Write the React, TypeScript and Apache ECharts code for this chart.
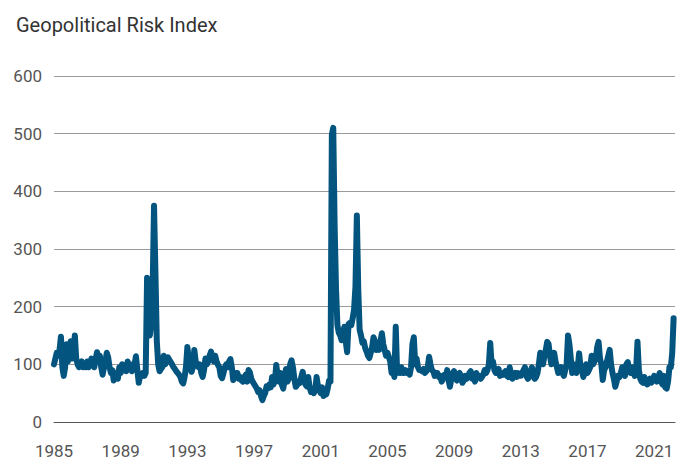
import React, { useEffect, useRef } from "react";
import * as echarts from "echarts";

// Monthly Geopolitical Risk Index values, Jan..Dec of each year
const gpr1985 = [100, 110, 120, 115, 125, 148, 95, 80, 95, 135, 105, 120];
const gpr1986 = [140, 110, 120, 150, 110, 100, 95, 100, 105, 95, 100, 95];
const gpr1987 = [105, 95, 100, 110, 105, 95, 110, 121, 105, 115, 95, 82];
const gpr1988 = [95, 105, 120, 112, 95, 85, 90, 72, 78, 85, 75, 95];
const gpr1989 = [85, 100, 90, 95, 88, 105, 95, 100, 88, 92, 100, 114];
const gpr1990 = [90, 68, 80, 82, 85, 80, 85, 250, 245, 150, 170, 230];
const gpr1991 = [375, 260, 140, 100, 88, 92, 95, 115, 100, 105, 112, 108];
const gpr1992 = [104, 100, 95, 92, 88, 85, 82, 78, 70, 67, 78, 95];
const gpr1993 = [130, 110, 100, 87, 95, 125, 105, 100, 95, 100, 85, 78];
const gpr1994 = [90, 110, 100, 105, 115, 122, 110, 105, 115, 105, 99, 95];
const gpr1995 = [80, 76, 85, 95, 100, 95, 105, 109, 95, 73, 80, 85];
const gpr1996 = [85, 75, 78, 72, 70, 78, 82, 70, 90, 86, 75, 70];
const gpr1997 = [66, 62, 58, 52, 55, 45, 38, 45, 50, 62, 58, 65];
const gpr1998 = [60, 78, 65, 72, 99, 80, 70, 85, 65, 58, 72, 92];
const gpr1999 = [70, 75, 100, 107, 95, 75, 61, 64, 70, 68, 78, 87];
const gpr2000 = [75, 65, 62, 78, 60, 52, 58, 50, 55, 78, 62, 55];
const gpr2001 = [50, 60, 45, 55, 48, 58, 72, 70, 498, 510, 340, 230];
const gpr2002 = [168, 155, 150, 142, 155, 165, 140, 121, 170, 172, 168, 180];
const gpr2003 = [195, 235, 358, 230, 160, 150, 137, 140, 128, 122, 115, 111];
const gpr2004 = [120, 130, 147, 140, 125, 130, 125, 140, 154, 135, 125, 115];
const gpr2005 = [120, 113, 105, 85, 90, 78, 165, 85, 90, 85, 95, 85];
const gpr2006 = [85, 90, 85, 88, 82, 95, 135, 147, 100, 110, 95, 90];
const gpr2007 = [90, 88, 92, 85, 88, 95, 113, 100, 90, 88, 80, 85];
const gpr2008 = [85, 78, 80, 70, 75, 82, 78, 90, 72, 61, 75, 85];
const gpr2009 = [88, 75, 72, 80, 85, 78, 68, 72, 80, 75, 78, 85];
const gpr2010 = [88, 75, 80, 70, 85, 78, 80, 75, 78, 82, 90, 85];
const gpr2011 = [90, 100, 137, 100, 105, 90, 85, 88, 92, 80, 85, 82];
const gpr2012 = [85, 88, 80, 78, 95, 82, 75, 80, 85, 78, 85, 80];
const gpr2013 = [80, 85, 90, 95, 80, 75, 78, 88, 95, 80, 75, 78];
const gpr2014 = [85, 100, 120, 115, 100, 115, 125, 139, 135, 115, 100, 110];
const gpr2015 = [120, 105, 95, 85, 90, 95, 85, 80, 90, 100, 150, 135];
const gpr2016 = [110, 85, 100, 90, 85, 95, 119, 95, 90, 78, 85, 100];
const gpr2017 = [85, 90, 95, 115, 100, 105, 110, 130, 139, 110, 100, 73];
const gpr2018 = [90, 95, 105, 115, 125, 100, 85, 75, 61, 70, 80, 78];
const gpr2019 = [85, 95, 88, 80, 100, 104, 90, 85, 95, 88, 80, 90];
const gpr2020 = [139, 90, 75, 70, 68, 78, 72, 65, 70, 75, 68, 72];
const gpr2021 = [80, 75, 70, 78, 85, 70, 65, 80, 60, 58, 70, 95];
const gpr2022 = [95, 120, 180];

const yearlySeries: number[][] = [
  gpr1985, gpr1986, gpr1987, gpr1988, gpr1989, gpr1990, gpr1991, gpr1992,
  gpr1993, gpr1994, gpr1995, gpr1996, gpr1997, gpr1998, gpr1999, gpr2000,
  gpr2001, gpr2002, gpr2003, gpr2004, gpr2005, gpr2006, gpr2007, gpr2008,
  gpr2009, gpr2010, gpr2011, gpr2012, gpr2013, gpr2014, gpr2015, gpr2016,
  gpr2017, gpr2018, gpr2019, gpr2020, gpr2021, gpr2022,
];
const firstYear = 1985;

const xTickLabels = [1985, 1989, 1993, 1997, 2001, 2005, 2009, 2013, 2017, 2021];
const yTickLabels = [0, 100, 200, 300, 400, 500, 600];

const titleText = "Geopolitical Risk Index";

export default function App() {
  const ref = useRef<HTMLDivElement>(null);

  useEffect(() => {
    if (!ref.current) return;
    const chart = echarts.init(ref.current, undefined, { renderer: "svg" });

    const data: [number, number][] = [];
    yearlySeries.forEach((vals, yi) => {
      vals.forEach((v, m) => {
        data.push([firstYear + yi + m / 12, v]);
      });
    });

    const fontFamily = "Roboto, 'Noto Sans', sans-serif";

    chart.setOption({
      animation: false,
      backgroundColor: "#ffffff",
      title: {
        text: titleText,
        left: 11,
        top: 10,
        textStyle: {
          fontFamily,
          fontSize: 20,
          fontWeight: "normal",
          color: "#333333",
        },
      },
      grid: { left: 54, right: 6, top: 76, bottom: 42 },
      xAxis: {
        type: "value",
        min: 1985,
        max: 2022.25,
        axisLine: { show: true, lineStyle: { color: "#555555", width: 1 } },
        axisTick: { show: false },
        splitLine: { show: false },
        axisLabel: {
          customValues: xTickLabels,
          margin: 20,
          fontFamily,
          fontSize: 17,
          color: "#555555",
          formatter: (v: number) => String(Math.round(v)),
        },
      },
      yAxis: {
        type: "value",
        min: yTickLabels[0],
        max: yTickLabels[yTickLabels.length - 1],
        interval: 100,
        axisLine: { show: false },
        axisTick: { show: false },
        splitLine: { show: true, lineStyle: { color: "#9a9a9a", width: 1 } },
        axisLabel: {
          margin: 12,
          fontFamily,
          fontSize: 17,
          color: "#555555",
        },
      },
      series: [
        {
          type: "line",
          data,
          showSymbol: false,
          symbol: "none",
          lineStyle: {
            color: "#03547f",
            width: 6,
            join: "round",
            cap: "round",
          },
          z: 3,
        },
      ],
    });

    return () => chart.dispose();
  }, []);

  return (
    <div
      ref={ref}
      style={{ position: "fixed", left: 0, top: 0, width: 681, height: 464 }}
    />
  );
}
